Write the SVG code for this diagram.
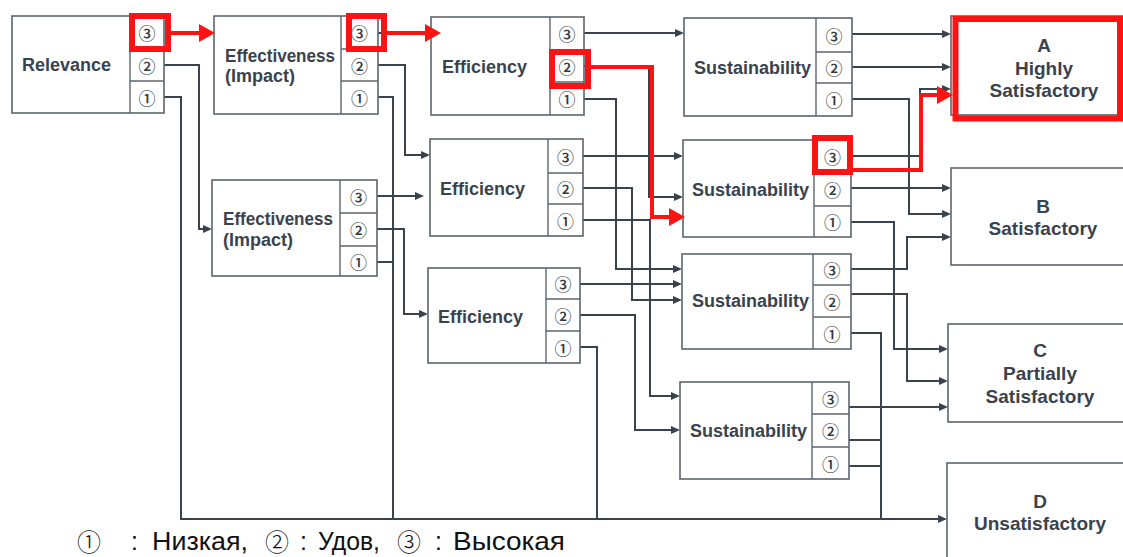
<svg xmlns="http://www.w3.org/2000/svg" width="1123" height="557" viewBox="0 0 1123 557">
<defs>
<marker id="ah" markerUnits="userSpaceOnUse" markerWidth="10" markerHeight="8" refX="0" refY="4" orient="auto"><path d="M0,0 L9,4 L0,8 Z" fill="#39434d"/></marker>
<marker id="rh" markerUnits="userSpaceOnUse" markerWidth="17" markerHeight="18" refX="0" refY="9" orient="auto"><path d="M0,0 L16,9 L0,18 Z" fill="#ff1212"/></marker>
<style>
.box{fill:#fff;stroke:#5d656d;stroke-width:1.6}
.div{stroke:#5d656d;stroke-width:1.4;fill:none}
.lbl{font-family:"Liberation Sans",Arial,sans-serif;font-weight:bold;font-size:18px;fill:#3a434d}
.res{font-family:"Liberation Sans",Arial,sans-serif;font-weight:bold;font-size:19px;fill:#3a434d;text-anchor:middle}
.num{font-family:"Noto Sans CJK KR","Noto Sans CJK JP",sans-serif;font-size:17px;font-weight:500;fill:#33383e;text-anchor:middle;dominant-baseline:central}
.c{fill:none;stroke:#39434d;stroke-width:2}
.ca{fill:none;stroke:#39434d;stroke-width:2;marker-end:url(#ah)}
.ra{fill:none;stroke:#ff1212;stroke-width:4;marker-end:url(#rh)}
.rb{fill:none;stroke:#ff1212;stroke-width:6}
.leg{font-family:"Liberation Sans",Arial,sans-serif;font-size:25px;fill:#111}
.legn{font-family:"Noto Sans CJK JP","Noto Sans CJK KR",sans-serif;font-size:24px;font-weight:300;fill:#111}
</style>
</defs>
<rect width="1123" height="557" fill="#fff"/>

<g id="connectors">
<polyline class="ca" points="164,65 199,65 199,229 203,229"/>
<polyline class="ca" points="164,97 181,97 181,519 938,519"/>
<polyline class="c" points="378,33 390,33"/>
<polyline class="ca" points="378,65 405,65 405,155 421,155"/>
<polyline class="c" points="378,97 393,97 393,519"/>
<polyline class="ca" points="377,196 415,196"/>
<polyline class="ca" points="377,229 404,229 404,314 419,314"/>
<polyline class="c" points="377,262 393,262"/>
<polyline class="ca" points="584,33 675,33"/>
<polyline class="ca" points="584,66 649,66 649,197 674,197"/>
<polyline class="ca" points="584,99 616,99 616,269 673,269"/>
<polyline class="ca" points="583,156 674,156"/>
<polyline class="ca" points="583,188 632,188 632,300 673,300"/>
<polyline class="ca" points="583,220 650,220 650,396 671,396"/>
<polyline class="ca" points="580,284 673,284"/>
<polyline class="ca" points="580,315 635,315 635,430 671,430"/>
<polyline class="c" points="580,347 597,347 597,519"/>
<polyline class="ca" points="852,34 942,34"/>
<polyline class="ca" points="852,67 942,67"/>
<polyline class="ca" points="852,99 909,99 909,214 942,214"/>
<polyline class="ca" points="851,156 920,156 920,89 942,89"/>
<polyline class="ca" points="851,188 942,188"/>
<polyline class="ca" points="851,222 894,222 894,349 939,349"/>
<polyline class="ca" points="851,269 907,269 907,237 942,237"/>
<polyline class="ca" points="851,294 907,294 907,381 939,381"/>
<polyline class="c" points="851,333 881,333 881,519"/>
<polyline class="ca" points="849,407 939,407"/>
<polyline class="c" points="849,440 881,440"/>
<polyline class="c" points="849,466 881,466"/>
</g>

<g id="relevance">
<rect class="box" x="12" y="16" width="152" height="97"/>
<path class="div" d="M130,16 V113 M130,49 H164 M130,81 H164"/>
<text class="lbl" x="22" y="71">Relevance</text>
<text class="num" x="147" y="32.5">③</text><text class="num" x="147" y="65">②</text><text class="num" x="147" y="97">①</text>
</g>

<g id="effectiveness1">
<rect class="box" x="214" y="16" width="164" height="98"/>
<path class="div" d="M341,16 V114 M341,49 H378 M341,81 H378"/>
<text class="lbl" x="225" y="62" textLength="110" lengthAdjust="spacingAndGlyphs">Effectiveness</text>
<text class="lbl" x="225" y="82">(Impact)</text>
<text class="num" x="359.5" y="32.5">③</text><text class="num" x="359.5" y="65">②</text><text class="num" x="359.5" y="97.5">①</text>
</g>

<g id="effectiveness2">
<rect class="box" x="212" y="180" width="165" height="96"/>
<path class="div" d="M340,180 V276 M340,213 H377 M340,246 H377"/>
<text class="lbl" x="223" y="225" textLength="110" lengthAdjust="spacingAndGlyphs">Effectiveness</text>
<text class="lbl" x="223" y="246">(Impact)</text>
<text class="num" x="358.5" y="196.5">③</text><text class="num" x="358.5" y="229.5">②</text><text class="num" x="358.5" y="261">①</text>
</g>

<g id="efficiency1">
<rect class="box" x="431" y="17" width="153" height="98"/>
<path class="div" d="M550,17 V115 M550,50 H584 M550,82 H584"/>
<text class="lbl" x="442" y="73">Efficiency</text>
<text class="num" x="567" y="33.5">③</text><text class="num" x="567" y="66">②</text><text class="num" x="567" y="98.5">①</text>
</g>

<g id="efficiency2">
<rect class="box" x="430" y="139" width="153" height="97"/>
<path class="div" d="M548,139 V236 M548,173 H583 M548,204 H583"/>
<text class="lbl" x="440" y="195">Efficiency</text>
<text class="num" x="565.5" y="156">③</text><text class="num" x="565.5" y="188.5">②</text><text class="num" x="565.5" y="220">①</text>
</g>

<g id="efficiency3">
<rect class="box" x="428" y="268" width="152" height="95"/>
<path class="div" d="M546,268 V363 M546,299 H580 M546,331 H580"/>
<text class="lbl" x="438" y="323">Efficiency</text>
<text class="num" x="563" y="283.5">③</text><text class="num" x="563" y="315">②</text><text class="num" x="563" y="347">①</text>
</g>

<g id="sustainability1">
<rect class="box" x="684" y="18" width="168" height="98"/>
<path class="div" d="M816,18 V116 M816,52 H852 M816,83 H852"/>
<text class="lbl" x="694" y="74">Sustainability</text>
<text class="num" x="834" y="35">③</text><text class="num" x="834" y="67.5">②</text><text class="num" x="834" y="99.5">①</text>
</g>

<g id="sustainability2">
<rect class="box" x="683" y="140" width="168" height="97"/>
<path class="div" d="M814,140 V237 M814,173 H851 M814,206 H851"/>
<text class="lbl" x="692" y="196">Sustainability</text>
<text class="num" x="832.5" y="156.5">③</text><text class="num" x="832.5" y="189.5">②</text><text class="num" x="832.5" y="221.5">①</text>
</g>

<g id="sustainability3">
<rect class="box" x="682" y="254" width="169" height="95"/>
<path class="div" d="M813,254 V349 M813,285 H851 M813,317 H851"/>
<text class="lbl" x="692" y="307">Sustainability</text>
<text class="num" x="832" y="269.5">③</text><text class="num" x="832" y="301">②</text><text class="num" x="832" y="333">①</text>
</g>

<g id="sustainability4">
<rect class="box" x="680" y="382" width="169" height="97"/>
<path class="div" d="M812,382 V479 M812,414 H849 M812,447 H849"/>
<text class="lbl" x="690" y="437">Sustainability</text>
<text class="num" x="830.5" y="398">③</text><text class="num" x="830.5" y="430.5">②</text><text class="num" x="830.5" y="463">①</text>
</g>

<g id="resultA">
<rect class="box" x="951" y="16" width="200" height="99"/>
<rect class="rb" x="955.5" y="19" width="164.5" height="99.5" stroke-width="5.5"/>
<text class="res" x="1044" y="52">A</text>
<text class="res" x="1044" y="75">Highly</text>
<text class="res" x="1044" y="97">Satisfactory</text>
</g>

<g id="resultB">
<rect class="box" x="951" y="168" width="200" height="97"/>
<text class="res" x="1043" y="213">B</text>
<text class="res" x="1043" y="235">Satisfactory</text>
</g>

<g id="resultC">
<rect class="box" x="948" y="324" width="200" height="98"/>
<text class="res" x="1040" y="357">C</text>
<text class="res" x="1040" y="380">Partially</text>
<text class="res" x="1040" y="403">Satisfactory</text>
</g>

<g id="resultD">
<rect class="box" x="947" y="463" width="200" height="120"/>
<text class="res" x="1040" y="508">D</text>
<text class="res" x="1040" y="530">Unsatisfactory</text>
</g>

<g id="highlights">
<rect class="rb" x="132" y="16" width="36" height="33"/>
<rect class="rb" x="349" y="16" width="35" height="33"/>
<rect class="rb" x="552" y="52" width="36" height="34"/>
<rect class="rb" x="815" y="138" width="35" height="34"/>
<polyline class="ra" points="171,33 199,33"/>
<polyline class="ra" points="387,33 425,33"/>
<polyline class="ra" points="591,67 652,67 652,217 669,217"/>
<polyline class="ra" points="853,170 921,170 921,95 937,95"/>
</g>

<g id="legend">
<text class="legn" x="77" y="551">①</text>
<text class="leg" x="131" y="550">:</text>
<text class="leg" x="152" y="550" textLength="96" lengthAdjust="spacingAndGlyphs">Низкая,</text>
<text class="legn" x="265" y="551">②</text>
<text class="leg" x="300" y="550">:</text>
<text class="leg" x="318" y="550" textLength="62" lengthAdjust="spacingAndGlyphs">Удов,</text>
<text class="legn" x="397" y="551">③</text>
<text class="leg" x="435" y="550">:</text>
<text class="leg" x="453" y="550" textLength="112" lengthAdjust="spacingAndGlyphs">Высокая</text>
</g>
</svg>
